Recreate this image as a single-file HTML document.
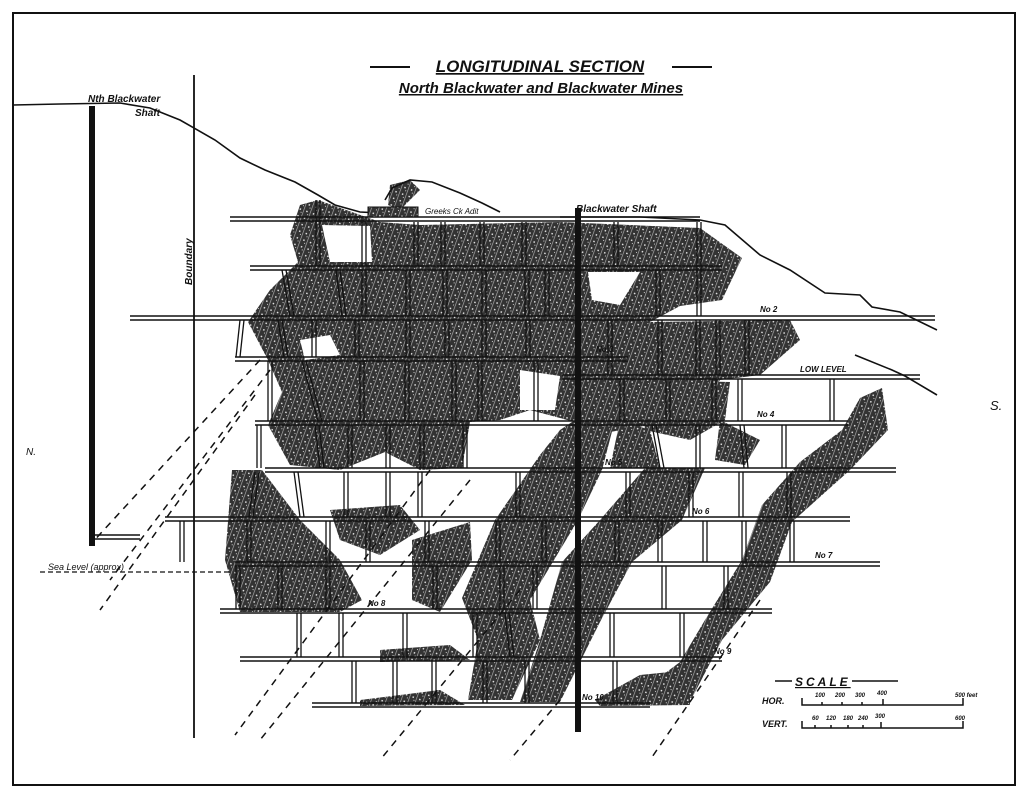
<!DOCTYPE html>
<html><head><meta charset="utf-8"><style>
html,body{margin:0;padding:0;background:#fff;}
svg{display:block;}
text{font-family:"Liberation Sans",sans-serif;font-style:italic;fill:#111;}
</style></head><body>
<svg width="1024" height="794" viewBox="0 0 1024 794" xmlns="http://www.w3.org/2000/svg">
<defs>
<pattern id="h" width="7" height="7" patternUnits="userSpaceOnUse" patternTransform="rotate(20)">
<rect width="7" height="7" fill="#333"/><line x1="0" y1="0" x2="0" y2="7" stroke="#b0b0b0" stroke-width="1.3"/>
<rect x="3" y="2" width="1.5" height="1.5" fill="#ddd"/><rect x="5" y="5" width="1" height="1" fill="#ccc"/>
</pattern>
</defs>
<rect width="1024" height="794" fill="#fff"/>
<path d="M13,13 L1015,13 L1015,785 L13,785 Z" fill="none" stroke="#111" stroke-width="2"/>

<text x="540" y="72" font-size="17" text-anchor="middle" text-decoration="underline" font-weight="bold">LONGITUDINAL  SECTION</text>
<line x1="370" y1="67" x2="410" y2="67" stroke="#111" stroke-width="2"/>
<line x1="672" y1="67" x2="712" y2="67" stroke="#111" stroke-width="2"/>
<text x="541" y="93" font-size="15" text-anchor="middle" text-decoration="underline" font-weight="bold">North Blackwater and Blackwater Mines</text>

<g fill="url(#h)">
<path d="M300,205 L318,200 L380,222 L420,225 L560,222 L700,228 L742,258 L722,300 L680,306 L650,322 L790,320 L800,340 L760,375 L720,380 L700,410 L650,425 L610,432 L560,418 L530,410 L500,420 L470,422 L462,468 L420,470 L385,452 L340,470 L290,465 L268,425 L282,392 L268,360 L248,322 L270,290 L298,262 L290,235 Z"/>
<path d="M590,410 L560,430 L540,455 L495,520 L462,598 L478,640 L468,700 L512,700 L540,640 L530,600 L578,520 L602,470 L615,420 Z"/>
<path d="M645,468 L600,520 L562,562 L540,640 L520,702 L560,702 L600,622 L632,562 L682,520 L705,468 Z"/>
<path d="M882,388 L860,398 L842,430 L800,462 L762,505 L742,560 L705,620 L680,662 L640,692 L692,698 L722,640 L770,582 L792,522 L850,470 L888,430 Z"/>
<path d="M232,470 L262,470 L300,520 L340,560 L362,600 L340,612 L240,612 L225,560 Z"/>
<path d="M412,540 L470,522 L472,560 L440,612 L412,600 Z"/>
<path d="M330,510 L400,505 L420,530 L380,555 L340,540 Z"/>
<path d="M640,380 L730,382 L725,420 L690,440 L645,430 Z"/>
<path d="M720,420 L760,440 L745,465 L715,460 Z"/>
<path d="M380,650 L450,645 L470,660 L380,662 Z"/>
<path d="M360,700 L440,690 L465,705 L360,706 Z"/>
<path d="M595,700 L640,675 L690,670 L690,705 L600,706 Z"/>
<path d="M390,185 L410,180 L420,190 L400,210 L388,205 Z"/>
<path d="M620,420 L650,430 L660,468 L610,468 Z"/>
</g>
<g fill="#fff">
<path d="M322,225 L370,226 L372,262 L330,262 Z"/>
<path d="M588,272 L640,272 L620,305 L592,300 Z"/>
<path d="M520,370 L560,376 L555,410 L520,410 Z"/>
<path d="M300,340 L330,335 L340,355 L305,360 Z"/>
</g>

<g fill="none" stroke="#111" stroke-width="1.6">
<path d="M13,105 L60,104 L120,103 L150,108 L180,120 L215,140 L240,158 L265,170 L295,182 L318,195 L335,205 L360,212 L380,213"/>
<path d="M385,200 L392,188 L410,180 L432,182 L460,193 L482,203 L500,212"/>
<path d="M560,217 L640,217 L700,220 L725,225 L760,255 L790,270 L825,293 L860,295 L872,307 L900,312 L937,330"/>
<path d="M855,355 L892,370 L905,376 L937,395"/>
</g>

<line x1="194" y1="75" x2="194" y2="738" stroke="#111" stroke-width="1.8"/>
<text transform="translate(192,285) rotate(-90)" font-size="10" font-weight="bold">Boundary</text>
<rect x="89" y="106" width="6" height="440" fill="#111"/>
<text x="88" y="102" font-size="10" font-weight="bold">Nth Blackwater</text>
<text x="135" y="116" font-size="10" font-weight="bold">Shaft</text>
<line x1="95" y1="535" x2="140" y2="535" stroke="#111" stroke-width="1.5"/>
<line x1="95" y1="539" x2="140" y2="539" stroke="#111" stroke-width="1.5"/>
<text x="26" y="455" font-size="10">N.</text>
<text x="990" y="410" font-size="13">S.</text>

<line x1="40" y1="572" x2="232" y2="572" stroke="#111" stroke-width="1.2" stroke-dasharray="5,3"/>
<text x="48" y="570" font-size="9">Sea Level (approx)</text>

<g stroke="#111" stroke-width="1.5" stroke-dasharray="7,6" fill="none">
<path d="M260,360 L90,545"/>
<path d="M270,370 L110,580"/>
<path d="M255,395 L100,610"/>
<path d="M430,470 L235,735"/>
<path d="M470,480 L260,740"/>
<path d="M520,590 L380,760"/>
<path d="M560,700 L510,760"/>
<path d="M760,600 L650,760"/>
</g>

<g stroke="#111" stroke-width="1.5">
<line x1="230" y1="217" x2="700" y2="217"/><line x1="230" y1="221" x2="700" y2="221"/>
<line x1="250" y1="266" x2="722" y2="266"/><line x1="250" y1="270" x2="722" y2="270"/>
<line x1="130" y1="316" x2="935" y2="316"/><line x1="130" y1="320" x2="935" y2="320"/>
<line x1="235" y1="357" x2="628" y2="357"/><line x1="235" y1="361" x2="628" y2="361"/>
<line x1="562" y1="375" x2="920" y2="375"/><line x1="562" y1="379" x2="920" y2="379"/>
<line x1="255" y1="421" x2="848" y2="421"/><line x1="255" y1="425" x2="848" y2="425"/>
<line x1="265" y1="468" x2="896" y2="468"/><line x1="265" y1="472" x2="896" y2="472"/>
<line x1="165" y1="517" x2="850" y2="517"/><line x1="165" y1="521" x2="850" y2="521"/>
<line x1="235" y1="562" x2="880" y2="562"/><line x1="235" y1="566" x2="880" y2="566"/>
<line x1="220" y1="609" x2="772" y2="609"/><line x1="220" y1="613" x2="772" y2="613"/>
<line x1="240" y1="657" x2="722" y2="657"/><line x1="240" y1="661" x2="722" y2="661"/>
<line x1="312" y1="703" x2="650" y2="703"/><line x1="312" y1="707" x2="650" y2="707"/>
</g>

<g stroke="#111" stroke-width="1.3">
<path d="M316,200V266M320,200V266M362,222V266M366,222V266M414,222V266M418,222V266M441,222V266M445,222V266M480,222V266M484,222V266M522,222V266M526,222V266M614,222V266M618,222V266M697,222V316M701,222V316"/>
<path d="M282,270L290,316M286,270L294,316M336,270L342,316M340,270L346,316M362,270V316M366,270V316M406,270V316M410,270V316M443,270V316M447,270V316M482,270V316M486,270V316M525,270V316M529,270V316M545,270V316M549,270V316M656,270V316M660,270V316"/>
<path d="M240,320L236,357M244,320L240,357M278,320L284,357M282,320L288,357M312,320V357M316,320V357M355,320V357M359,320V357M406,320V357M410,320V357M445,320V357M449,320V357M482,320V357M486,320V357M526,320V357M530,320V357M608,320V375M612,320V375M658,320V375M662,320V375M696,320V375M700,320V375M716,320V375M720,320V375M745,320V375M749,320V375"/>
<path d="M268,361V421M272,361V421M302,361L318,421M306,361L322,421M360,361V421M364,361V421M405,361V421M409,361V421M452,361V421M456,361V421M478,361V421M482,361V421M534,361V421M538,361V421M620,379V421M624,379V421M666,379V421M670,379V421M712,379V421M716,379V421M738,379V421M742,379V421M830,379V421M834,379V421"/>
<path d="M257,425V468M261,425V468M315,425L320,468M319,425L324,468M348,425V468M352,425V468M386,425V468M390,425V468M420,425V468M424,425V468M463,425V468M467,425V468M652,425L660,468M656,425L664,468M696,425V468M700,425V468M740,425L744,468M744,425L748,468M782,425V468M786,425V468"/>
<path d="M255,472L249,517M259,472L253,517M294,472L300,517M298,472L304,517M344,472V517M348,472V517M386,472V517M390,472V517M418,472V517M422,472V517M516,472V517M520,472V517M626,472V517M630,472V517M689,472V517M693,472V517M739,472V517M743,472V517M787,472V517M791,472V517"/>
<path d="M180,521V562M184,521V562M247,521V562M251,521V562M326,521V562M330,521V562M366,521V562M370,521V562M425,521V562M429,521V562M496,521V562M500,521V562M542,521V562M546,521V562M615,521V562M619,521V562M658,521V562M662,521V562M703,521V562M707,521V562M742,521V562M746,521V562M790,521V562M794,521V562"/>
<path d="M236,566V609M240,566V609M278,566V609M282,566V609M326,566V609M330,566V609M433,566V609M437,566V609M500,566V609M504,566V609M533,566V609M537,566V609M662,566V609M666,566V609M724,566V609M728,566V609"/>
<path d="M297,613V657M301,613V657M339,613V657M343,613V657M403,613V657M407,613V657M473,613V657M477,613V657M505,613L510,657M509,613L514,657M610,613V657M614,613V657M680,613V657M684,613V657"/>
<path d="M352,661V703M356,661V703M393,661V703M397,661V703M432,661V703M436,661V703M483,661V703M487,661V703M525,661V703M529,661V703M613,661V703M617,661V703"/>
</g>

<rect x="575" y="208" width="6" height="524" fill="#111"/>
<text x="576" y="212" font-size="10" font-weight="bold">Blackwater Shaft</text>
<rect x="368" y="207" width="50" height="10" fill="url(#h)" stroke="#111"/>
<text x="425" y="214" font-size="8">Greeks Ck Adit</text>

<g font-size="8" font-weight="bold">
<text x="760" y="312">No 2</text>
<text x="596" y="352">No 3</text>
<text x="800" y="372">LOW LEVEL</text>
<text x="757" y="417">No 4</text>
<text x="605" y="465">No 5</text>
<text x="692" y="514">No 6</text>
<text x="815" y="558">No 7</text>
<text x="368" y="606">No 8</text>
<text x="714" y="654">No 9</text>
<text x="582" y="700">No 10</text>
</g>

<text x="795" y="686" font-size="12" font-style="normal" font-weight="bold" letter-spacing="3" text-decoration="underline">SCALE</text>
<line x1="775" y1="681" x2="792" y2="681" stroke="#111" stroke-width="1.5"/>
<line x1="852" y1="681" x2="898" y2="681" stroke="#111" stroke-width="1.5"/>
<text x="762" y="704" font-size="9" font-style="normal" font-weight="bold">HOR.</text>
<path d="M802,698V705H963V698M822,705V702M842,705V702M862,705V702M883,705V699" fill="none" stroke="#111" stroke-width="1.5"/>
<g font-size="6" font-weight="bold"><text x="815" y="697">100</text><text x="835" y="697">200</text><text x="855" y="697">300</text><text x="877" y="695">400</text><text x="955" y="697">500 feet</text></g>
<text x="762" y="727" font-size="9" font-style="normal" font-weight="bold">VERT.</text>
<path d="M802,721V728H963V721M815,728V725M831,728V725M848,728V725M863,728V725M881,728V722" fill="none" stroke="#111" stroke-width="1.5"/>
<g font-size="6" font-weight="bold"><text x="812" y="720">60</text><text x="826" y="720">120</text><text x="843" y="720">180</text><text x="858" y="720">240</text><text x="875" y="718">300</text><text x="955" y="720">600</text></g>
</svg>
</body></html>
